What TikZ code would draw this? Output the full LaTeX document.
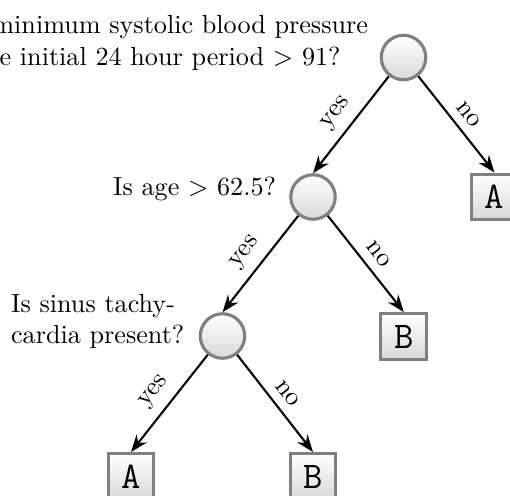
\documentclass[tikz,border=0pt]{standalone}
\usetikzlibrary{arrows.meta}
\begin{document}
\begin{tikzpicture}[x=0.38235pt,y=0.38235pt,
  dec/.style={circle, draw=gray, very thick, top color=white, bottom color=gray!30, minimum size=17pt, inner sep=0pt},
  leaf/.style={rectangle, draw=gray, very thick, top color=white, bottom color=gray!30, minimum size=17.5pt, inner sep=0pt, font=\Large\ttfamily},
  arr/.style={thick, -{Stealth}},
  lab/.style={midway, sloped, above},
  qtext/.style={align=left, inner sep=0pt}]
\useasboundingbox (0,0) rectangle (510,495);
\clip (0,0) rectangle (510,495);
\node[dec] (r) at (403.5,437.5) {};
\node[dec] (n2) at (313,298) {};
\node[dec] (n3) at (222.5,159) {};
\node[leaf] (a1) at (494.5,298) {A};
\node[leaf] (b1) at (403.8,158.5) {B};
\node[leaf] (a2) at (131,18.5) {A};
\node[leaf] (b2) at (313,18.5) {B};
\node[qtext, anchor=north west] (q1) at (-81.6,479.8) {Is the minimum systolic blood pressure\\over the initial 24 hour period $>$ 91?};
\node[qtext, anchor=base east] (q2) at (276.5,300) {Is age $>$ 62.5?};
\node[qtext, anchor=north west] (q3) at (10.6,201.5) {Is sinus tachy-\\cardia present?};
\draw[arr] (r) -- node[lab] {yes} (n2.north);
\draw[arr] (r) -- node[lab] {no} (a1.north);
\draw[arr] (n2) -- node[lab] {yes} (n3.north);
\draw[arr] (n2) -- node[lab] {no} (b1.north);
\draw[arr] (n3) -- node[lab] {yes} (a2.north);
\draw[arr] (n3) -- node[lab] {no} (b2.north);
\end{tikzpicture}
\end{document}
